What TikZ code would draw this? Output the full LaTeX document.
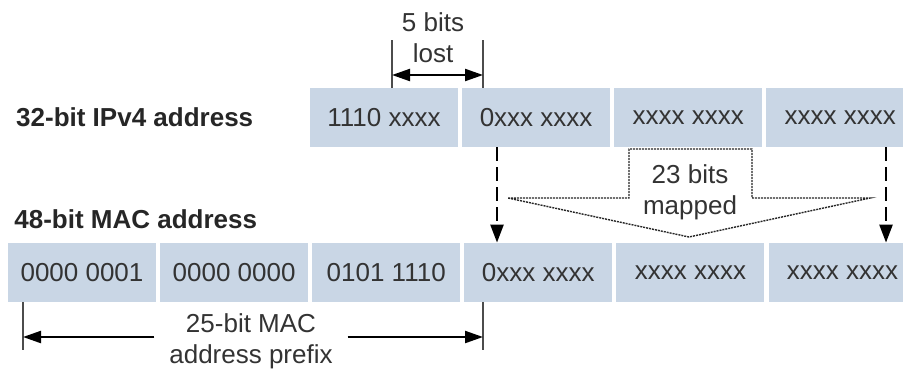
\documentclass[tikz,border=0pt]{standalone}
\usepackage{fontspec}
\setmainfont{Liberation Sans}
\usepackage{xcolor}
\usetikzlibrary{arrows.meta, positioning}

\definecolor{fieldblue}{RGB}{201,214,229}
\definecolor{textgray}{RGB}{51,51,51}

\begin{document}
\begin{tikzpicture}[x=0.5pt, y=-0.5pt,
    >={Triangle[length=9pt, width=6pt]},
    every node/.style={font=\fontsize{13}{15.5}\selectfont, text=textgray},
    fieldbox/.style={fill=fieldblue, minimum width=74pt, minimum height=29.5pt, inner sep=0pt},
    rowlabel/.style={font=\fontsize{13}{15.5}\selectfont\bfseries, text=black!85, inner sep=0pt},
    dimbar/.style={gray!60!black, line width=1pt},
    dimarrow/.style={black, line width=1.1pt},
    maparrow/.style={black, line width=1.2pt, dash pattern=on 7pt off 3pt, -{Triangle[length=9pt, width=6.5pt]}},
    bitsshape/.style={black!85, line width=0.7pt, dash pattern=on 1pt off 0.5pt},
    node distance=1.65pt]

    % Frame
    \clip (0,0) rectangle (903,371);
    \fill[white] (0,0) rectangle (903,371);

    % IPv4 row
    \node[fieldbox] (ip1) at (384,117.5) {1110 xxxx};
    \node[fieldbox, right=of ip1] (ip2) {0xxx xxxx};
    \node[fieldbox, right=of ip2] (ip3) {xxxx xxxx};
    \node[fieldbox, right=of ip3] (ip4) {xxxx xxxx};
    \node[rowlabel, left=28pt of ip1] (iplabel) {32-bit IPv4 address};

    % MAC row
    \node[fieldbox] (mac1) at (82,272.5) {0000 0001};
    \node[fieldbox, right=of mac1] (mac2) {0000 0000};
    \node[fieldbox, right=of mac2] (mac3) {0101 1110};
    \node[fieldbox, right=of mac3] (mac4) {0xxx xxxx};
    \node[fieldbox, right=of mac4] (mac5) {xxxx xxxx};
    \node[fieldbox, right=of mac5] (mac6) {xxxx xxxx};
    \node[rowlabel, anchor=west] (maclabel) at (14,219) {48-bit MAC address};

    % Lost bits
    \coordinate (lostL) at (392,75);
    \coordinate (lostR) at (483,75);
    \draw[dimbar] (lostL |- ip1.north) -- ++(0,-48);
    \draw[dimbar] (lostR |- ip2.north) -- ++(0,-48);
    \draw[dimarrow, <->] (lostL) -- (lostR);
    \node[align=center] (lost) at (433,37.5) {5 bits\\lost};

    % Mapped bits
    \coordinate (mapL) at (497,0);
    \coordinate (mapR) at (886,0);
    \draw[maparrow] (ip2.south -| mapL) -- (mac4.north -| mapL);
    \draw[maparrow] (ip4.south -| mapR) -- (mac6.north -| mapR);
    \draw[bitsshape] (508,198) -- (629,198) -- (629,149) -- (752,149)
        -- (752,198) -- (870,198) -- (689,237) -- cycle;
    \node[align=center] (mapped) at (690,192.5) {23 bits\\mapped};

    % Prefix
    \coordinate (preL) at (23,337);
    \coordinate (preR) at (483,337);
    \draw[dimbar] (preL |- mac1.south) -- ++(0,48);
    \draw[dimbar] (preR |- mac4.south) -- ++(0,48);
    \node[align=center, inner xsep=7.25pt] (prefix) at (251,341) {25-bit MAC\\address prefix};
    \draw[dimarrow, ->] (prefix.west |- preL) -- (preL);
    \draw[dimarrow, ->] (prefix.east |- preR) -- (preR);
\end{tikzpicture}
\end{document}
